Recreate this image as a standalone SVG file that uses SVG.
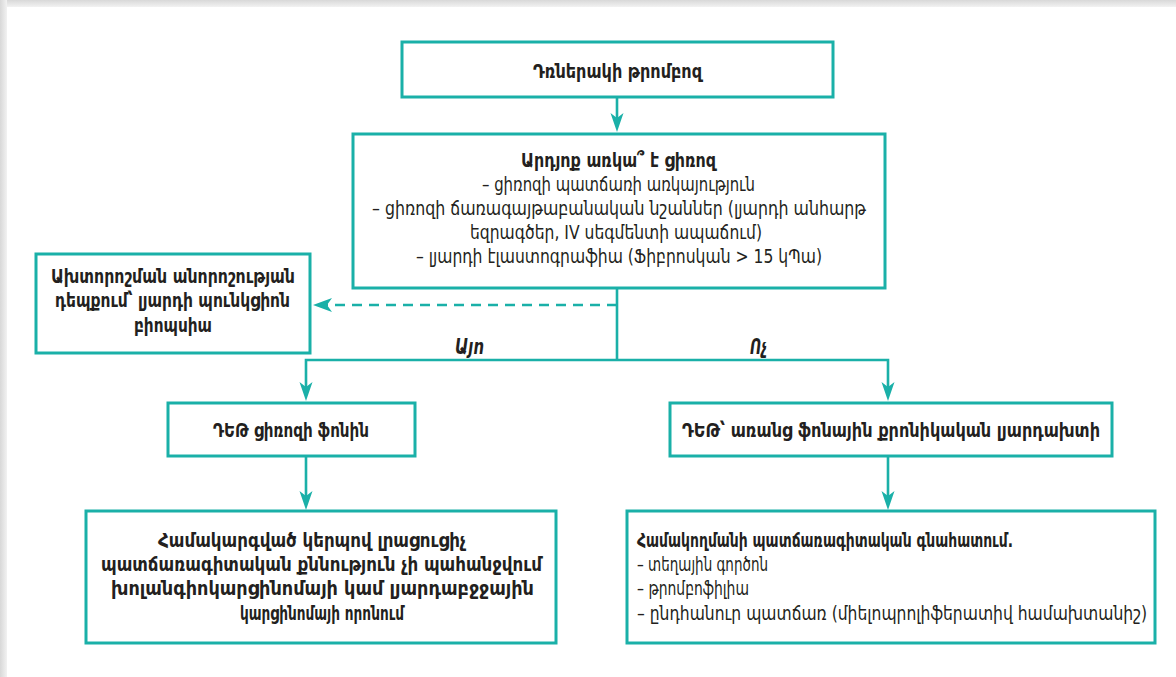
<svg xmlns="http://www.w3.org/2000/svg" width="1176" height="677" viewBox="0 0 1176 677">
<defs>
<linearGradient id="gTop" x1="0" y1="0" x2="0" y2="1"><stop offset="0" stop-color="#d8d8d8"/><stop offset="1" stop-color="#f2f2f2"/></linearGradient>
<linearGradient id="gLeft" x1="0" y1="0" x2="1" y2="0"><stop offset="0" stop-color="#d8d8d8"/><stop offset="1" stop-color="#f2f2f2"/></linearGradient>
<path id="arrowDown" d="M-6.5,-19 L0,-14 L6.5,-19 L0,0 Z"/>
</defs>
<style>
.box{fill:#fff;stroke:#1ab0a8;stroke-width:3}
.ln{fill:none;stroke:#1ab0a8;stroke-width:2.6}
.ah{fill:#1ab0a8}
text{font-family:"DejaVu Sans Condensed","DejaVu Sans","Noto Sans",sans-serif;font-stretch:condensed;fill:#231f20;font-size:17.5px}
.b{font-weight:bold}
.lab{font-style:italic;font-weight:bold;font-size:18px}
</style>
<rect width="1176" height="677" fill="#fff"/>
<rect x="0" y="0" width="1176" height="7" fill="url(#gTop)"/>
<rect x="0" y="0" width="7" height="677" fill="url(#gLeft)"/>

<g id="connectors">
<line class="ln" x1="617" y1="97" x2="617" y2="120"/>
<use href="#arrowDown" class="ah" x="617" y="132"/>
<line class="ln" x1="617" y1="288" x2="617" y2="360"/>
<line class="ln" x1="617" y1="305" x2="326" y2="305" stroke-dasharray="10,7"/>
<path class="ah" d="M313,305 L332,298 L327,305 L332,312 Z"/>
<polyline class="ln" points="306,388 306,360 888,360 888,388"/>
<use href="#arrowDown" class="ah" x="306" y="401"/>
<use href="#arrowDown" class="ah" x="888" y="401"/>
<line class="ln" x1="306" y1="457" x2="306" y2="497"/>
<use href="#arrowDown" class="ah" x="306" y="510"/>
<line class="ln" x1="888" y1="457" x2="888" y2="497"/>
<use href="#arrowDown" class="ah" x="888" y="510"/>
<g transform="translate(0,354) scale(1,1.15)"><text class="lab" x="455" y="0" textLength="29" lengthAdjust="spacingAndGlyphs">Այո</text></g>
<g transform="translate(0,354) scale(1,1.15)"><text class="lab" x="750" y="0" textLength="17" lengthAdjust="spacingAndGlyphs">Ոչ</text></g>
</g>

<g id="n-top">
<rect class="box" x="402" y="42" width="431" height="55"/>
<g transform="translate(0,78) scale(1,1.15)"><text class="b" x="533" y="0" textLength="169" lengthAdjust="spacingAndGlyphs">Դռներակի թրոմբոզ</text></g>
</g>

<g id="n-cirrhosis">
<rect class="box" x="353" y="134" width="532" height="154"/>
<g transform="translate(0,167) scale(1,1.15)"><text class="b" x="521" y="0" textLength="195" lengthAdjust="spacingAndGlyphs">Արդյոք առկա՞ է ցիռոզ</text></g>
<g transform="translate(0,191) scale(1,1.15)"><text x="482" y="0" textLength="273" lengthAdjust="spacingAndGlyphs">– ցիռոզի պատճառի առկայություն</text></g>
<g transform="translate(0,215) scale(1,1.15)"><text x="372" y="0" textLength="494" lengthAdjust="spacingAndGlyphs">– ցիռոզի ճառագայթաբանական նշաններ (լյարդի անհարթ</text></g>
<g transform="translate(0,239) scale(1,1.15)"><text x="470" y="0" textLength="292" lengthAdjust="spacingAndGlyphs">եզրագծեր, IV սեգմենտի ապաճում)</text></g>
<g transform="translate(0,263) scale(1,1.15)"><text x="416" y="0" textLength="406" lengthAdjust="spacingAndGlyphs">– լյարդի էլաստոգրաֆիա (Ֆիբրոսկան &gt; 15 կՊա)</text></g>
</g>

<g id="n-biopsy">
<rect class="box" x="36" y="254" width="274" height="99"/>
<g transform="translate(0,283) scale(1,1.15)"><text class="b" x="51" y="0" textLength="244" lengthAdjust="spacingAndGlyphs">Ախտորոշման անորոշության</text></g>
<g transform="translate(0,307) scale(1,1.15)"><text class="b" x="55" y="0" textLength="235" lengthAdjust="spacingAndGlyphs">դեպքում՝ լյարդի պունկցիոն</text></g>
<g transform="translate(0,332) scale(1,1.15)"><text class="b" x="134" y="0" textLength="78" lengthAdjust="spacingAndGlyphs">բիոպսիա</text></g>
</g>

<g id="n-yes">
<rect class="box" x="168" y="403" width="247" height="53"/>
<g transform="translate(0,437) scale(1,1.15)"><text class="b" x="213" y="0" textLength="156" lengthAdjust="spacingAndGlyphs">ԴԵԹ ցիռոզի ֆոնին</text></g>
</g>

<g id="n-no">
<rect class="box" x="670" y="403" width="442" height="53"/>
<g transform="translate(0,437) scale(1,1.15)"><text class="b" x="682" y="0" textLength="418" lengthAdjust="spacingAndGlyphs">ԴԵԹ՝ առանց ֆոնային քրոնիկական լյարդախտի</text></g>
</g>

<g id="n-yes-result">
<rect class="box" x="86" y="511" width="470" height="132"/>
<g transform="translate(0,547) scale(1,1.15)"><text class="b" x="158" y="0" textLength="308" lengthAdjust="spacingAndGlyphs">Համակարգված կերպով լրացուցիչ</text></g>
<g transform="translate(0,571) scale(1,1.15)"><text class="b" x="101" y="0" textLength="441" lengthAdjust="spacingAndGlyphs">պատճառագիտական քննություն չի պահանջվում</text></g>
<g transform="translate(0,595) scale(1,1.15)"><text class="b" x="111" y="0" textLength="423" lengthAdjust="spacingAndGlyphs">խոլանգիոկարցինոմայի կամ լյարդաբջջային</text></g>
<g transform="translate(0,620) scale(1,1.15)"><text class="b" x="240" y="0" textLength="164" lengthAdjust="spacingAndGlyphs">կարցինոմայի որոնում</text></g>
</g>

<g id="n-no-result">
<rect class="box" x="627" y="511" width="528" height="132"/>
<g transform="translate(0,547) scale(1,1.15)"><text class="b" x="637" y="0" textLength="376" lengthAdjust="spacingAndGlyphs">Համակողմանի պատճառագիտական գնահատում.</text></g>
<g transform="translate(0,571) scale(1,1.15)"><text x="637" y="0" textLength="131" lengthAdjust="spacingAndGlyphs">– տեղային գործոն</text></g>
<g transform="translate(0,595) scale(1,1.15)"><text x="637" y="0" textLength="112" lengthAdjust="spacingAndGlyphs">– թրոմբոֆիլիա</text></g>
<g transform="translate(0,620) scale(1,1.15)"><text x="637" y="0" font-size="16.5" textLength="510" lengthAdjust="spacingAndGlyphs">– ընդհանուր պատճառ (միելոպրոլիֆերատիվ համախտանիշ)</text></g>
</g>
</svg>
